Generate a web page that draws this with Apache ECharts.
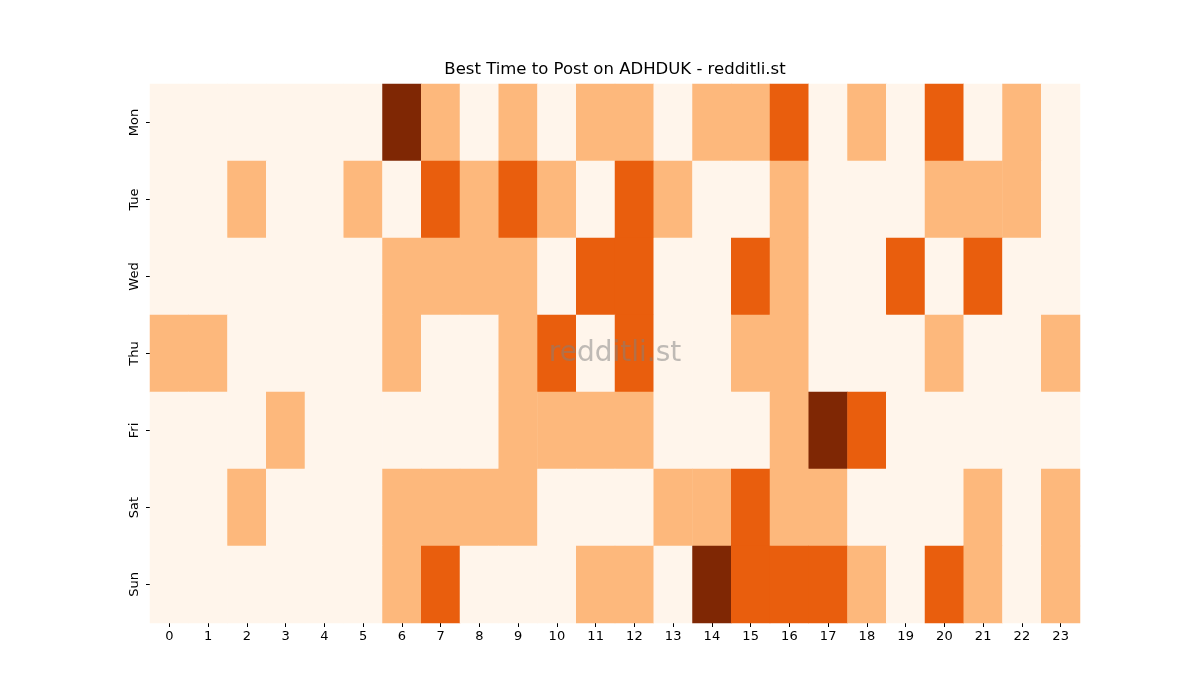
<!DOCTYPE html>
<html lang="en">
<head>
<meta charset="utf-8" />
<title>Best Time to Post on ADHDUK</title>
<style>
  html, body { margin: 0; padding: 0; background: #fff; }
  #chart { width: 1200px; height: 700px; }
</style>
</head>
<body>
<div id="chart"></div>
<script src="https://cdn.jsdelivr.net/npm/echarts@6/dist/echarts.min.js"></script>
<script>
// axes
var hours = ['0','1','2','3','4','5','6','7','8','9','10','11','12','13','14','15','16','17','18','19','20','21','22','23'];
var days = ['Mon', 'Tue', 'Wed', 'Thu', 'Fri', 'Sat', 'Sun'];

// activity level per hour, one row per day (0..3)
var mon = [0,0,0,0,0,0,3,1,0,1,0,1,1,0,1,1,2,0,1,0,2,0,1,0];
var tue = [0,0,1,0,0,1,0,2,1,2,1,0,2,1,0,0,1,0,0,0,1,1,1,0];
var wed = [0,0,0,0,0,0,1,1,1,1,0,2,2,0,0,2,1,0,0,2,0,2,0,0];
var thu = [1,1,0,0,0,0,1,0,0,1,2,0,2,0,0,1,1,0,0,0,1,0,0,1];
var fri = [0,0,0,1,0,0,0,0,0,1,1,1,1,0,0,0,1,3,2,0,0,0,0,0];
var sat = [0,0,1,0,0,0,1,1,1,1,0,0,0,1,1,2,1,1,0,0,0,1,0,1];
var sun = [0,0,0,0,0,0,1,2,0,0,0,1,1,0,3,2,2,2,1,0,2,1,0,1];

var rows = [mon, tue, wed, thu, fri, sat, sun];
var levelColors = ['#fff5eb', '#fdb87c', '#e95e0d', '#7f2704'];

var data = [];
rows.forEach(function (row, d) {
  row.forEach(function (v, h) {
    data.push([h, d, v]);
  });
});

var chart = echarts.init(document.getElementById('chart'));
var font = 'DejaVu Sans';

chart.setOption({
  backgroundColor: '#fff',
  animation: false,
  grid: { left: 150, right: 120, top: 84, bottom: 77 },
  xAxis: {
    type: 'category',
    data: hours,
    axisLine: { show: false },
    axisTick: { show: true, alignWithLabel: true, length: 4, lineStyle: { color: '#000' } },
    axisLabel: { fontFamily: font, fontSize: 13, color: '#000', margin: 7 },
    splitLine: { show: false }
  },
  yAxis: {
    type: 'category',
    data: days,
    inverse: true,
    axisLine: { show: false },
    axisTick: { show: true, alignWithLabel: true, length: 4, lineStyle: { color: '#000' } },
    axisLabel: { fontFamily: font, fontSize: 13, color: '#000', rotate: 90, margin: 9 },
    splitLine: { show: false }
  },
  visualMap: {
    show: false,
    type: 'piecewise',
    dimension: 2,
    pieces: [
      { value: 0, color: levelColors[0] },
      { value: 1, color: levelColors[1] },
      { value: 2, color: levelColors[2] },
      { value: 3, color: levelColors[3] }
    ]
  },
  graphic: [{
    // title, centred over the plot area
    type: 'text',
    x: 615, y: 70,
    style: {
      text: 'Best Time to Post on ADHDUK - redditli.st',
      align: 'center', verticalAlign: 'middle',
      font: '16.5px "DejaVu Sans"',
      fill: '#000'
    }
  }, {
    // watermark
    type: 'text',
    x: 615, y: 354,
    style: {
      text: 'redditli.st',
      align: 'center', verticalAlign: 'middle',
      font: '28px "DejaVu Sans"',
      fill: 'rgba(128,128,128,0.5)'
    },
    z: 100
  }],
  series: [{
    type: 'heatmap',
    data: data,
    itemStyle: { borderWidth: 0 },
    emphasis: { disabled: true }
  }]
});
</script>
</body>
</html>
